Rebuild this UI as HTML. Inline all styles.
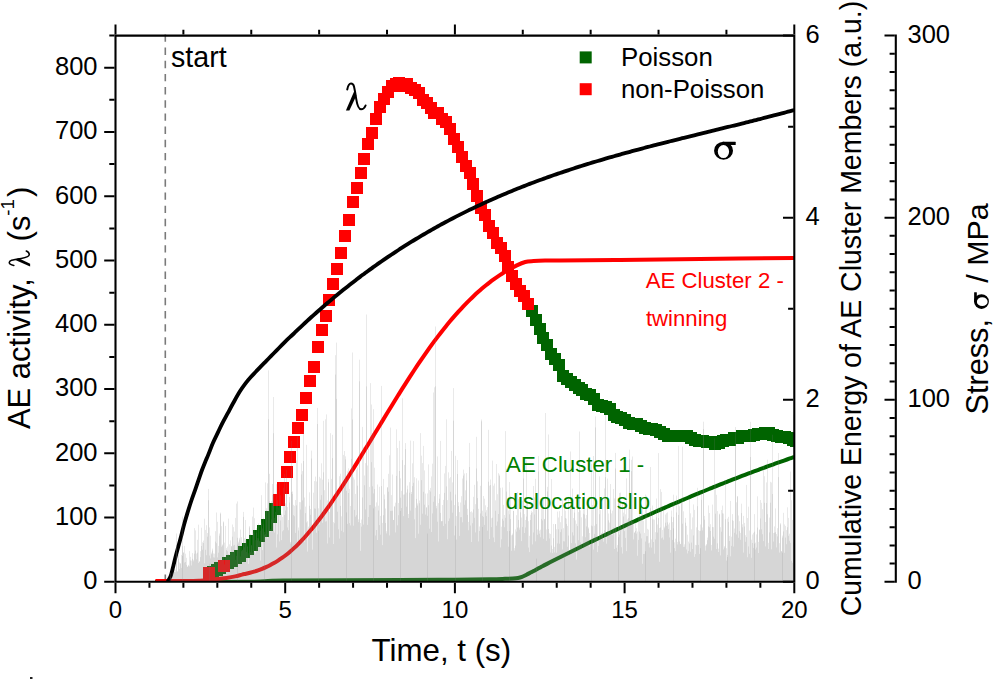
<!DOCTYPE html><html><head><meta charset="utf-8"><style>html,body{margin:0;padding:0;background:#fff;}svg{display:block;}</style></head><body>
<svg width="995" height="679" viewBox="0 0 995 679">
<rect width="995" height="679" fill="#fff"/>
<defs><clipPath id="pc"><rect x="115.5" y="35.6" width="678.8" height="546.2"/></clipPath></defs>
<line x1="165.3" y1="34.43" x2="165.3" y2="581.8" stroke="#7a7a7a" stroke-width="1.6" stroke-dasharray="7.4 5.77"/>
<g clip-path="url(#pc)">
<path d="M207,566h12v12h-12zM211,564h12v12h-12zM214,562h12v12h-12zM222,557h12v12h-12zM226,555h12v12h-12zM230,552h12v12h-12zM234,550h12v12h-12zM238,546h12v12h-12zM242,543h12v12h-12zM246,539h12v12h-12zM249,535h12v12h-12zM253,530h12v12h-12zM257,525h12v12h-12zM261,519h12v12h-12zM265,511h12v12h-12zM269,503h12v12h-12zM526,305h12v12h-12zM530,314h12v12h-12zM534,323h12v12h-12zM537,332h12v12h-12zM541,339h12v12h-12zM545,348h12v12h-12zM549,353h12v12h-12zM553,359h12v12h-12zM557,370h12v12h-12zM561,373h12v12h-12zM565,376h12v12h-12zM569,379h12v12h-12zM573,382h12v12h-12zM576,384h12v12h-12zM580,388h12v12h-12zM584,389h12v12h-12zM588,393h12v12h-12zM592,399h12v12h-12zM596,400h12v12h-12zM600,401h12v12h-12zM604,403h12v12h-12zM608,409h12v12h-12zM611,411h12v12h-12zM615,412h12v12h-12zM619,414h12v12h-12zM623,417h12v12h-12zM627,418h12v12h-12zM631,418h12v12h-12zM635,420h12v12h-12zM639,422h12v12h-12zM643,423h12v12h-12zM646,423h12v12h-12zM650,424h12v12h-12zM654,426h12v12h-12zM658,428h12v12h-12zM662,430h12v12h-12zM666,430h12v12h-12zM670,430h12v12h-12zM674,430h12v12h-12zM678,430h12v12h-12zM681,430h12v12h-12zM685,432h12v12h-12zM689,434h12v12h-12zM693,435h12v12h-12zM697,435h12v12h-12zM701,436h12v12h-12zM705,436h12v12h-12zM709,438h12v12h-12zM713,437h12v12h-12zM717,435h12v12h-12zM720,434h12v12h-12zM724,434h12v12h-12zM728,432h12v12h-12zM732,432h12v12h-12zM736,430h12v12h-12zM740,430h12v12h-12zM744,430h12v12h-12zM748,429h12v12h-12zM752,428h12v12h-12zM755,428h12v12h-12zM759,427h12v12h-12zM763,427h12v12h-12zM767,429h12v12h-12zM771,430h12v12h-12zM775,431h12v12h-12zM779,431h12v12h-12zM783,432h12v12h-12zM787,434h12v12h-12zM790,435h12v12h-12z" fill="#006400"/>
<path d="M203,567h12v12h-12zM218,560h12v12h-12zM273,494h12v12h-12zM277,482h12v12h-12zM281,466h12v12h-12zM284,451h12v12h-12zM288,436h12v12h-12zM292,422h12v12h-12zM296,409h12v12h-12zM300,392h12v12h-12zM304,375h12v12h-12zM308,361h12v12h-12zM312,341h12v12h-12zM316,324h12v12h-12zM320,310h12v12h-12zM323,294h12v12h-12zM327,278h12v12h-12zM331,263h12v12h-12zM335,247h12v12h-12zM339,230h12v12h-12zM343,214h12v12h-12zM347,196h12v12h-12zM351,182h12v12h-12zM355,167h12v12h-12zM358,153h12v12h-12zM362,138h12v12h-12zM366,127h12v12h-12zM370,113h12v12h-12zM374,101h12v12h-12zM378,93h12v12h-12zM382,86h12v12h-12zM386,80h12v12h-12zM390,78h12v12h-12zM393,77h12v12h-12zM397,80h12v12h-12zM401,78h12v12h-12zM405,82h12v12h-12zM409,84h12v12h-12zM413,87h12v12h-12zM417,94h12v12h-12zM421,97h12v12h-12zM425,102h12v12h-12zM428,107h12v12h-12zM432,107h12v12h-12zM436,113h12v12h-12zM440,116h12v12h-12zM444,123h12v12h-12zM448,133h12v12h-12zM452,141h12v12h-12zM456,151h12v12h-12zM460,160h12v12h-12zM464,167h12v12h-12zM467,178h12v12h-12zM471,190h12v12h-12zM475,202h12v12h-12zM479,209h12v12h-12zM483,220h12v12h-12zM487,227h12v12h-12zM491,237h12v12h-12zM495,242h12v12h-12zM499,250h12v12h-12zM502,261h12v12h-12zM506,270h12v12h-12zM510,278h12v12h-12zM514,285h12v12h-12zM518,290h12v12h-12zM522,298h12v12h-12z" fill="#ff0000"/>
<path d="M155.00,582.00 C170.83,581.97 228.67,582.03 250.00,581.80 C271.33,581.57 258.00,580.90 283.00,580.60 C308.00,580.30 372.17,580.15 400.00,580.00 C427.83,579.85 435.00,579.83 450.00,579.70 C465.00,579.57 480.83,579.35 490.00,579.20 C499.17,579.05 501.17,578.92 505.00,578.80 C508.83,578.68 510.83,578.63 513.00,578.50 C515.17,578.37 516.50,578.27 518.00,578.00 C519.50,577.73 520.58,577.45 522.00,576.90 C523.42,576.35 525.00,575.47 526.50,574.70 C528.00,573.93 529.42,573.13 531.00,572.30 C532.58,571.47 534.33,570.59 536.00,569.70 C537.67,568.81 539.67,567.66 541.00,566.94 C542.33,566.23 543.00,565.91 544.00,565.39 C545.00,564.88 546.00,564.36 547.00,563.85 C548.00,563.33 549.00,562.82 550.00,562.31 C551.00,561.80 552.00,561.28 553.00,560.77 C554.00,560.26 555.00,559.75 556.00,559.25 C557.00,558.74 558.00,558.23 559.00,557.72 C560.00,557.22 561.00,556.71 562.00,556.21 C563.00,555.70 564.00,555.20 565.00,554.69 C566.00,554.19 567.00,553.69 568.00,553.19 C569.00,552.69 570.00,552.19 571.00,551.69 C572.00,551.19 573.00,550.69 574.00,550.19 C575.00,549.69 576.00,549.20 577.00,548.70 C578.00,548.21 579.00,547.71 580.00,547.22 C581.00,546.72 582.00,546.23 583.00,545.74 C584.00,545.25 585.00,544.76 586.00,544.27 C587.00,543.78 588.00,543.29 589.00,542.80 C590.00,542.31 591.00,541.83 592.00,541.34 C593.00,540.85 594.00,540.37 595.00,539.89 C596.00,539.40 597.00,538.92 598.00,538.44 C599.00,537.95 600.00,537.47 601.00,536.99 C602.00,536.51 603.00,536.03 604.00,535.56 C605.00,535.08 606.00,534.60 607.00,534.12 C608.00,533.65 609.00,533.17 610.00,532.70 C611.00,532.22 612.00,531.75 613.00,531.28 C614.00,530.81 615.00,530.33 616.00,529.86 C617.00,529.39 618.00,528.92 619.00,528.45 C620.00,527.99 621.00,527.52 622.00,527.05 C623.00,526.59 624.00,526.12 625.00,525.66 C626.00,525.19 627.00,524.73 628.00,524.27 C629.00,523.80 630.00,523.34 631.00,522.88 C632.00,522.42 633.00,521.96 634.00,521.50 C635.00,521.04 636.00,520.59 637.00,520.13 C638.00,519.67 639.00,519.22 640.00,518.76 C641.00,518.31 642.00,517.85 643.00,517.40 C644.00,516.95 645.00,516.50 646.00,516.05 C647.00,515.60 648.00,515.15 649.00,514.70 C650.00,514.25 651.00,513.80 652.00,513.36 C653.00,512.91 654.00,512.46 655.00,512.02 C656.00,511.57 657.00,511.13 658.00,510.69 C659.00,510.25 660.00,509.81 661.00,509.36 C662.00,508.92 663.00,508.49 664.00,508.05 C665.00,507.61 666.00,507.17 667.00,506.73 C668.00,506.30 669.00,505.86 670.00,505.43 C671.00,504.99 672.00,504.56 673.00,504.13 C674.00,503.70 675.00,503.27 676.00,502.84 C677.00,502.41 678.00,501.98 679.00,501.55 C680.00,501.12 681.00,500.69 682.00,500.27 C683.00,499.84 684.00,499.42 685.00,498.99 C686.00,498.57 687.00,498.15 688.00,497.72 C689.00,497.30 690.00,496.88 691.00,496.46 C692.00,496.04 693.00,495.62 694.00,495.21 C695.00,494.79 696.00,494.37 697.00,493.96 C698.00,493.54 699.00,493.13 700.00,492.71 C701.00,492.30 702.00,491.89 703.00,491.48 C704.00,491.07 705.00,490.66 706.00,490.25 C707.00,489.84 708.00,489.43 709.00,489.02 C710.00,488.62 711.00,488.21 712.00,487.81 C713.00,487.40 714.00,487.00 715.00,486.59 C716.00,486.19 717.00,485.79 718.00,485.39 C719.00,484.99 720.00,484.59 721.00,484.19 C722.00,483.79 723.00,483.40 724.00,483.00 C725.00,482.60 726.00,482.21 727.00,481.81 C728.00,481.42 729.00,481.03 730.00,480.64 C731.00,480.24 732.00,479.85 733.00,479.46 C734.00,479.07 735.00,478.68 736.00,478.30 C737.00,477.91 738.00,477.52 739.00,477.14 C740.00,476.75 741.00,476.37 742.00,475.99 C743.00,475.60 744.00,475.22 745.00,474.84 C746.00,474.46 747.00,474.08 748.00,473.70 C749.00,473.32 750.00,472.94 751.00,472.57 C752.00,472.19 753.00,471.81 754.00,471.44 C755.00,471.07 756.00,470.69 757.00,470.32 C758.00,469.95 759.00,469.58 760.00,469.21 C761.00,468.84 762.00,468.47 763.00,468.10 C764.00,467.73 765.00,467.37 766.00,467.00 C767.00,466.64 768.00,466.27 769.00,465.91 C770.00,465.55 771.00,465.18 772.00,464.82 C773.00,464.46 774.00,464.10 775.00,463.74 C776.00,463.39 777.00,463.03 778.00,462.67 C779.00,462.32 780.00,461.96 781.00,461.61 C782.00,461.25 783.00,460.90 784.00,460.55 C785.00,460.19 786.00,459.84 787.00,459.49 C788.00,459.15 789.00,458.80 790.00,458.45 C791.00,458.10 792.28,457.66 793.00,457.41 C793.72,457.16 794.08,457.04 794.30,456.96" fill="none" stroke="#006400" stroke-width="4.0" stroke-linejoin="round"/>
<path d="M155.40,581.10 C161.17,581.08 182.57,581.05 190.00,581.00 C197.43,580.95 197.17,580.92 200.00,580.80 C202.83,580.68 204.50,580.57 207.00,580.30 C209.50,580.03 211.75,579.60 215.00,579.20 C218.25,578.80 223.12,578.37 226.50,577.90 C229.88,577.43 232.72,576.95 235.30,576.40 C237.88,575.85 240.22,575.05 242.00,574.61 C243.78,574.17 244.67,574.07 246.00,573.76 C247.33,573.46 248.67,573.13 250.00,572.77 C251.33,572.41 252.67,572.04 254.00,571.62 C255.33,571.21 256.67,570.78 258.00,570.31 C259.33,569.84 260.67,569.34 262.00,568.80 C263.33,568.27 264.67,567.70 266.00,567.09 C267.33,566.49 268.67,565.85 270.00,565.17 C271.33,564.49 272.67,563.77 274.00,563.01 C275.33,562.25 276.67,561.45 278.00,560.60 C279.33,559.75 280.67,558.86 282.00,557.93 C283.33,556.99 284.67,556.00 286.00,554.97 C287.33,553.94 288.67,552.85 290.00,551.72 C291.33,550.58 292.67,549.40 294.00,548.16 C295.33,546.92 296.67,545.63 298.00,544.30 C299.33,542.97 300.67,541.58 302.00,540.16 C303.33,538.73 304.67,537.26 306.00,535.75 C307.33,534.24 308.67,532.68 310.00,531.09 C311.33,529.49 312.67,527.86 314.00,526.19 C315.33,524.52 316.67,522.81 318.00,521.07 C319.33,519.33 320.67,517.55 322.00,515.74 C323.33,513.94 324.67,512.10 326.00,510.23 C327.33,508.36 328.67,506.46 330.00,504.54 C331.33,502.61 332.67,500.66 334.00,498.69 C335.33,496.71 336.67,494.71 338.00,492.69 C339.33,490.67 340.67,488.63 342.00,486.57 C343.33,484.51 344.67,482.43 346.00,480.34 C347.33,478.24 348.67,476.13 350.00,474.01 C351.33,471.88 352.67,469.74 354.00,467.59 C355.33,465.44 356.67,463.28 358.00,461.11 C359.33,458.95 360.67,456.77 362.00,454.58 C363.33,452.40 364.67,450.21 366.00,448.02 C367.33,445.82 368.67,443.63 370.00,441.43 C371.33,439.23 372.67,437.02 374.00,434.82 C375.33,432.62 376.67,430.42 378.00,428.22 C379.33,426.02 380.67,423.81 382.00,421.62 C383.33,419.42 384.67,417.23 386.00,415.04 C387.33,412.85 388.67,410.67 390.00,408.49 C391.33,406.32 392.67,404.15 394.00,401.99 C395.33,399.83 396.67,397.68 398.00,395.54 C399.33,393.40 400.67,391.26 402.00,389.15 C403.33,387.03 404.67,384.93 406.00,382.84 C407.33,380.75 408.67,378.67 410.00,376.61 C411.33,374.55 412.67,372.50 414.00,370.48 C415.33,368.45 416.67,366.45 418.00,364.46 C419.33,362.47 420.67,360.50 422.00,358.56 C423.33,356.61 424.67,354.69 426.00,352.79 C427.33,350.89 428.67,349.01 430.00,347.16 C431.33,345.31 432.67,343.48 434.00,341.68 C435.33,339.88 436.67,338.11 438.00,336.36 C439.33,334.61 440.67,332.89 442.00,331.19 C443.33,329.49 444.67,327.82 446.00,326.18 C447.33,324.54 448.67,322.92 450.00,321.33 C451.33,319.74 452.67,318.18 454.00,316.65 C455.33,315.11 456.67,313.60 458.00,312.12 C459.33,310.64 460.67,309.19 462.00,307.77 C463.33,306.34 464.67,304.95 466.00,303.58 C467.33,302.21 468.67,300.87 470.00,299.56 C471.33,298.25 472.67,296.96 474.00,295.71 C475.33,294.46 476.67,293.23 478.00,292.04 C479.33,290.84 480.67,289.68 482.00,288.54 C483.33,287.40 484.67,286.30 486.00,285.22 C487.33,284.14 488.67,283.10 490.00,282.08 C491.33,281.06 492.67,280.08 494.00,279.12 C495.33,278.16 496.67,277.24 498.00,276.34 C499.33,275.45 500.67,274.59 502.00,273.75 C503.33,272.92 503.53,272.74 506.00,271.35 C508.47,269.96 513.60,266.96 516.80,265.40 C520.00,263.84 522.40,262.72 525.20,262.00 C528.00,261.28 530.30,261.33 533.60,261.10 C536.90,260.87 540.60,260.72 545.00,260.60 C549.40,260.48 547.50,260.50 560.00,260.40 C572.50,260.30 596.67,260.23 620.00,260.00 C643.33,259.77 670.95,259.33 700.00,259.00 C729.05,258.67 778.58,258.17 794.30,258.00" fill="none" stroke="#ff0000" stroke-width="4" stroke-linejoin="round"/>
<path d="M167.60,581.50 C167.92,581.00 168.93,579.57 169.50,578.50 C170.07,577.43 170.32,577.37 171.00,575.10 C171.68,572.83 172.75,568.30 173.60,564.90 C174.45,561.50 175.27,557.95 176.10,554.70 C176.93,551.45 177.75,548.50 178.60,545.40 C179.45,542.30 180.35,539.35 181.20,536.10 C182.05,532.85 182.72,529.57 183.70,525.90 C184.68,522.23 185.82,518.33 187.10,514.10 C188.38,509.87 189.98,504.75 191.40,500.50 C192.82,496.25 194.23,492.55 195.60,488.60 C196.97,484.65 198.50,479.98 199.60,476.80 C200.70,473.62 201.27,471.98 202.20,469.50 C203.13,467.02 204.17,464.42 205.20,461.90 C206.23,459.38 207.12,457.55 208.40,454.40 C209.68,451.25 211.37,446.55 212.90,443.00 C214.43,439.45 216.02,436.40 217.60,433.10 C219.18,429.80 220.70,426.52 222.40,423.20 C224.10,419.88 226.02,416.52 227.80,413.20 C229.58,409.88 231.10,406.90 233.10,403.30 C235.10,399.70 237.70,394.95 239.80,391.60 C241.90,388.25 243.90,385.58 245.70,383.20 C247.50,380.82 248.92,379.20 250.60,377.30 C252.28,375.40 254.08,373.62 255.80,371.80 C257.52,369.98 259.18,368.18 260.90,366.40 C262.62,364.62 264.38,362.85 266.10,361.10 C267.82,359.35 269.48,357.65 271.20,355.90 C272.92,354.15 274.68,352.35 276.40,350.60 C278.12,348.85 279.78,347.15 281.50,345.40 C283.22,343.65 284.95,341.79 286.70,340.10 C288.45,338.41 290.45,336.69 292.00,335.24 C293.55,333.79 294.67,332.67 296.00,331.40 C297.33,330.12 298.67,328.86 300.00,327.61 C301.33,326.35 302.67,325.10 304.00,323.87 C305.33,322.63 306.67,321.40 308.00,320.18 C309.33,318.96 310.67,317.75 312.00,316.55 C313.33,315.35 314.67,314.15 316.00,312.97 C317.33,311.79 318.67,310.61 320.00,309.44 C321.33,308.28 322.67,307.12 324.00,305.97 C325.33,304.82 326.67,303.67 328.00,302.54 C329.33,301.41 330.67,300.28 332.00,299.17 C333.33,298.05 334.67,296.94 336.00,295.84 C337.33,294.74 338.67,293.65 340.00,292.57 C341.33,291.48 342.67,290.41 344.00,289.34 C345.33,288.27 346.67,287.21 348.00,286.16 C349.33,285.11 350.67,284.06 352.00,283.03 C353.33,281.99 354.67,280.96 356.00,279.94 C357.33,278.92 358.67,277.91 360.00,276.91 C361.33,275.90 362.67,274.91 364.00,273.92 C365.33,272.93 366.67,271.94 368.00,270.97 C369.33,270.00 370.67,269.03 372.00,268.07 C373.33,267.11 374.67,266.16 376.00,265.21 C377.33,264.27 378.67,263.33 380.00,262.40 C381.33,261.47 382.67,260.55 384.00,259.63 C385.33,258.72 386.67,257.81 388.00,256.91 C389.33,256.01 390.67,255.11 392.00,254.23 C393.33,253.34 394.67,252.46 396.00,251.59 C397.33,250.71 398.67,249.85 400.00,248.99 C401.33,248.13 402.67,247.27 404.00,246.43 C405.33,245.58 406.67,244.74 408.00,243.91 C409.33,243.08 410.67,242.25 412.00,241.43 C413.33,240.61 414.67,239.80 416.00,238.99 C417.33,238.19 418.67,237.39 420.00,236.59 C421.33,235.80 422.67,235.01 424.00,234.23 C425.33,233.45 426.67,232.68 428.00,231.91 C429.33,231.14 430.67,230.38 432.00,229.62 C433.33,228.87 434.67,228.12 436.00,227.37 C437.33,226.63 438.67,225.89 440.00,225.16 C441.33,224.43 442.67,223.70 444.00,222.98 C445.33,222.26 446.67,221.55 448.00,220.84 C449.33,220.13 450.67,219.43 452.00,218.73 C453.33,218.03 454.67,217.34 456.00,216.66 C457.33,215.97 458.67,215.29 460.00,214.62 C461.33,213.94 462.67,213.27 464.00,212.61 C465.33,211.95 466.67,211.29 468.00,210.63 C469.33,209.98 470.67,209.33 472.00,208.69 C473.33,208.05 474.67,207.41 476.00,206.78 C477.33,206.15 478.67,205.52 480.00,204.90 C481.33,204.28 482.67,203.66 484.00,203.05 C485.33,202.44 486.67,201.83 488.00,201.23 C489.33,200.63 490.67,200.03 492.00,199.44 C493.33,198.85 494.67,198.26 496.00,197.68 C497.33,197.10 498.67,196.52 500.00,195.94 C501.33,195.37 502.67,194.80 504.00,194.24 C505.33,193.68 506.67,193.12 508.00,192.56 C509.33,192.01 510.67,191.46 512.00,190.91 C513.33,190.36 514.67,189.82 516.00,189.28 C517.33,188.75 518.67,188.21 520.00,187.69 C521.33,187.16 522.67,186.63 524.00,186.11 C525.33,185.59 526.67,185.07 528.00,184.56 C529.33,184.05 530.67,183.54 532.00,183.04 C533.33,182.53 534.67,182.03 536.00,181.53 C537.33,181.04 538.67,180.55 540.00,180.06 C541.33,179.57 542.67,179.08 544.00,178.60 C545.33,178.12 546.67,177.64 548.00,177.17 C549.33,176.69 550.67,176.22 552.00,175.75 C553.33,175.29 554.67,174.82 556.00,174.36 C557.33,173.90 558.67,173.45 560.00,172.99 C561.33,172.54 562.67,172.09 564.00,171.64 C565.33,171.19 566.67,170.75 568.00,170.31 C569.33,169.87 570.67,169.43 572.00,169.00 C573.33,168.56 574.67,168.13 576.00,167.70 C577.33,167.27 578.67,166.85 580.00,166.43 C581.33,166.00 582.67,165.58 584.00,165.17 C585.33,164.75 586.67,164.34 588.00,163.93 C589.33,163.51 590.67,163.11 592.00,162.70 C593.33,162.29 594.67,161.89 596.00,161.49 C597.33,161.09 598.67,160.69 600.00,160.30 C601.33,159.90 602.67,159.51 604.00,159.12 C605.33,158.72 606.67,158.34 608.00,157.95 C609.33,157.56 610.67,157.18 612.00,156.80 C613.33,156.42 614.67,156.04 616.00,155.66 C617.33,155.28 618.67,154.91 620.00,154.53 C621.33,154.16 622.67,153.79 624.00,153.42 C625.33,153.05 626.67,152.68 628.00,152.32 C629.33,151.95 630.67,151.59 632.00,151.22 C633.33,150.86 634.67,150.50 636.00,150.14 C637.33,149.79 638.67,149.43 640.00,149.07 C641.33,148.72 642.67,148.36 644.00,148.01 C645.33,147.66 646.67,147.31 648.00,146.96 C649.33,146.61 650.67,146.26 652.00,145.92 C653.33,145.57 654.67,145.22 656.00,144.88 C657.33,144.53 658.67,144.19 660.00,143.85 C661.33,143.51 662.67,143.17 664.00,142.83 C665.33,142.49 666.67,142.15 668.00,141.81 C669.33,141.48 670.67,141.14 672.00,140.80 C673.33,140.47 674.67,140.13 676.00,139.80 C677.33,139.47 678.67,139.13 680.00,138.80 C681.33,138.47 682.67,138.14 684.00,137.80 C685.33,137.47 686.67,137.14 688.00,136.81 C689.33,136.48 690.67,136.15 692.00,135.82 C693.33,135.50 694.67,135.17 696.00,134.84 C697.33,134.51 698.67,134.18 700.00,133.86 C701.33,133.53 702.67,133.20 704.00,132.87 C705.33,132.55 706.67,132.22 708.00,131.89 C709.33,131.57 710.67,131.24 712.00,130.91 C713.33,130.59 714.67,130.26 716.00,129.93 C717.33,129.61 718.67,129.28 720.00,128.95 C721.33,128.63 722.67,128.30 724.00,127.97 C725.33,127.64 726.67,127.32 728.00,126.99 C729.33,126.66 730.67,126.33 732.00,126.00 C733.33,125.67 734.67,125.35 736.00,125.02 C737.33,124.69 738.67,124.36 740.00,124.03 C741.33,123.69 742.67,123.36 744.00,123.03 C745.33,122.70 746.67,122.37 748.00,122.03 C749.33,121.70 750.67,121.37 752.00,121.03 C753.33,120.70 754.67,120.36 756.00,120.02 C757.33,119.69 758.67,119.35 760.00,119.01 C761.33,118.67 762.67,118.33 764.00,117.99 C765.33,117.65 766.67,117.31 768.00,116.96 C769.33,116.62 770.67,116.27 772.00,115.93 C773.33,115.58 774.67,115.23 776.00,114.89 C777.33,114.54 778.67,114.19 780.00,113.84 C781.33,113.48 782.67,113.13 784.00,112.78 C785.33,112.42 786.67,112.07 788.00,111.71 C789.33,111.35 790.95,110.91 792.00,110.63 C793.05,110.35 793.92,110.11 794.30,110.01" fill="none" stroke="#000" stroke-width="3.85" stroke-linejoin="round"/>
<path d="M169.5,581.8V580.7M170.5,581.8V572.9M171.5,581.8V577.8M172.5,581.8V577.1M173.5,581.8V572.9M174.5,581.8V572.0M175.5,581.8V569.5M176.5,581.8V533.5M177.5,581.8V570.8M178.5,581.8V554.8M179.5,581.8V568.9M180.5,581.8V563.3M181.5,581.8V554.9M182.5,581.8V546.2M183.5,581.8V552.5M184.5,581.8V545.9M185.5,581.8V553.7M186.5,581.8V557.8M187.5,581.8V566.5M188.5,581.8V564.8M189.5,581.8V566.3M190.5,581.8V556.8M191.5,581.8V560.6M192.5,581.8V558.8M193.5,581.8V561.3M194.5,581.8V553.7M195.5,581.8V530.4M196.5,581.8V553.6M197.5,581.8V552.7M198.5,581.8V524.7M199.5,581.8V561.6M200.5,581.8V557.1M201.5,581.8V527.7M202.5,581.8V549.7M203.5,581.8V540.6M204.5,581.8V563.3M205.5,581.8V529.9M206.5,581.8V555.2M207.5,581.8V533.0M208.5,581.8V488.9M209.5,581.8V555.5M210.5,581.8V558.4M211.5,581.8V554.2M212.5,581.8V550.6M213.5,581.8V553.4M214.5,581.8V557.5M215.5,581.8V531.2M216.5,581.8V543.2M217.5,581.8V557.4M218.5,581.8V552.7M219.5,581.8V535.7M220.5,581.8V512.6M221.5,581.8V526.2M222.5,581.8V544.5M223.5,581.8V522.4M224.5,581.8V564.5M225.5,581.8V556.6M226.5,581.8V548.1M227.5,581.8V546.6M228.5,581.8V554.0M229.5,581.8V544.3M230.5,581.8V540.4M231.5,581.8V546.2M232.5,581.8V536.7M233.5,581.8V527.1M234.5,581.8V544.9M235.5,581.8V559.8M236.5,581.8V555.9M237.5,581.8V544.6M238.5,581.8V541.7M239.5,581.8V539.5M240.5,581.8V556.5M241.5,581.8V537.2M242.5,581.8V550.1M243.5,581.8V511.9M244.5,581.8V538.1M245.5,581.8V520.0M246.5,581.8V539.9M247.5,581.8V545.6M248.5,581.8V563.9M249.5,581.8V526.1M250.5,581.8V533.9M251.5,581.8V545.2M252.5,581.8V516.6M253.5,581.8V532.9M254.5,581.8V518.2M255.5,581.8V553.6M256.5,581.8V528.1M257.5,581.8V540.4M258.5,581.8V538.3M259.5,581.8V541.3M260.5,581.8V530.7M261.5,581.8V522.8M262.5,581.8V528.5M263.5,581.8V517.7M264.5,581.8V536.5M265.5,581.8V482.4M266.5,581.8V510.2M267.5,581.8V483.3M268.5,581.8V370.3M269.5,581.8V473.8M270.5,581.8V531.5M271.5,581.8V501.0M272.5,581.8V494.9M273.5,581.8V397.0M274.5,581.8V532.5M275.5,581.8V515.1M276.5,581.8V484.2M277.5,581.8V534.3M278.5,581.8V507.5M279.5,581.8V482.5M280.5,581.8V495.2M281.5,581.8V513.7M282.5,581.8V531.3M283.5,581.8V530.2M284.5,581.8V474.0M285.5,581.8V503.3M286.5,581.8V469.8M287.5,581.8V527.4M288.5,581.8V530.2M289.5,581.8V496.9M290.5,581.8V541.9M291.5,581.8V440.8M292.5,581.8V491.5M293.5,581.8V515.1M294.5,581.8V505.8M295.5,581.8V532.9M296.5,581.8V505.3M297.5,581.8V542.4M298.5,581.8V527.5M299.5,581.8V502.1M300.5,581.8V509.5M301.5,581.8V474.4M302.5,581.8V471.1M303.5,581.8V431.5M304.5,581.8V542.2M305.5,581.8V506.6M306.5,581.8V444.8M307.5,581.8V521.3M308.5,581.8V537.5M309.5,581.8V492.3M310.5,581.8V509.0M311.5,581.8V458.5M312.5,581.8V531.8M313.5,581.8V524.4M314.5,581.8V508.4M315.5,581.8V476.6M316.5,581.8V481.5M317.5,581.8V407.9M318.5,581.8V520.8M319.5,581.8V524.6M320.5,581.8V478.3M321.5,581.8V463.3M322.5,581.8V479.7M323.5,581.8V472.3M324.5,581.8V510.4M325.5,581.8V419.3M326.5,581.8V414.4M327.5,581.8V500.3M328.5,581.8V482.3M329.5,581.8V512.0M330.5,581.8V504.5M331.5,581.8V500.8M332.5,581.8V458.1M333.5,581.8V544.0M334.5,581.8V501.9M335.5,581.8V355.2M336.5,581.8V342.6M337.5,581.8V511.7M338.5,581.8V491.8M339.5,581.8V476.2M340.5,581.8V473.7M341.5,581.8V516.3M342.5,581.8V426.7M343.5,581.8V454.9M344.5,581.8V451.0M345.5,581.8V456.3M346.5,581.8V478.9M347.5,581.8V471.3M348.5,581.8V493.0M349.5,581.8V523.1M350.5,581.8V525.4M351.5,581.8V458.9M352.5,581.8V352.5M353.5,581.8V525.7M354.5,581.8V479.6M355.5,581.8V493.9M356.5,581.8V515.2M357.5,581.8V467.6M358.5,581.8V519.3M359.5,581.8V359.7M360.5,581.8V550.9M361.5,581.8V526.6M362.5,581.8V497.4M363.5,581.8V447.2M364.5,581.8V485.2M365.5,581.8V463.1M366.5,581.8V314.5M367.5,581.8V524.9M368.5,581.8V517.0M369.5,581.8V505.1M370.5,581.8V383.1M371.5,581.8V404.5M372.5,581.8V486.3M373.5,581.8V508.4M374.5,581.8V467.7M375.5,581.8V506.6M376.5,581.8V530.0M377.5,581.8V484.5M378.5,581.8V505.7M379.5,581.8V486.8M380.5,581.8V534.7M381.5,581.8V385.9M382.5,581.8V545.1M383.5,581.8V478.9M384.5,581.8V494.5M385.5,581.8V523.0M386.5,581.8V533.4M387.5,581.8V487.4M388.5,581.8V473.8M389.5,581.8V455.3M390.5,581.8V510.9M391.5,581.8V495.1M392.5,581.8V474.5M393.5,581.8V520.0M394.5,581.8V505.9M395.5,581.8V502.7M396.5,581.8V429.3M397.5,581.8V448.0M398.5,581.8V515.2M399.5,581.8V440.8M400.5,581.8V510.9M401.5,581.8V508.0M402.5,581.8V460.1M403.5,581.8V494.6M404.5,581.8V494.4M405.5,581.8V443.1M406.5,581.8V492.6M407.5,581.8V485.6M408.5,581.8V514.0M409.5,581.8V492.7M410.5,581.8V440.6M411.5,581.8V492.0M412.5,581.8V463.3M413.5,581.8V441.1M414.5,581.8V519.3M415.5,581.8V538.1M416.5,581.8V498.9M417.5,581.8V505.6M418.5,581.8V533.7M419.5,581.8V500.5M420.5,581.8V433.1M421.5,581.8V480.1M422.5,581.8V513.7M423.5,581.8V445.9M424.5,581.8V470.4M425.5,581.8V493.6M426.5,581.8V507.5M427.5,581.8V533.5M428.5,581.8V505.2M429.5,581.8V490.1M430.5,581.8V491.5M431.5,581.8V476.4M432.5,581.8V463.7M433.5,581.8V392.5M434.5,581.8V496.2M435.5,581.8V326.5M436.5,581.8V505.9M437.5,581.8V521.7M438.5,581.8V503.1M439.5,581.8V494.1M440.5,581.8V512.9M441.5,581.8V521.3M442.5,581.8V521.1M443.5,581.8V499.9M444.5,581.8V473.4M445.5,581.8V465.9M446.5,581.8V419.3M447.5,581.8V500.1M448.5,581.8V472.3M449.5,581.8V518.4M450.5,581.8V491.8M451.5,581.8V450.9M452.5,581.8V482.4M453.5,581.8V388.1M454.5,581.8V505.1M455.5,581.8V525.8M456.5,581.8V516.1M457.5,581.8V460.0M458.5,581.8V506.1M459.5,581.8V512.1M460.5,581.8V502.5M461.5,581.8V517.1M462.5,581.8V478.5M463.5,581.8V469.6M464.5,581.8V473.5M465.5,581.8V500.3M466.5,581.8V473.1M467.5,581.8V508.8M468.5,581.8V521.9M469.5,581.8V467.0M470.5,581.8V525.5M471.5,581.8V511.3M472.5,581.8V523.2M473.5,581.8V509.4M474.5,581.8V517.8M475.5,581.8V532.4M476.5,581.8V436.8M477.5,581.8V498.1M478.5,581.8V541.4M479.5,581.8V526.5M480.5,581.8V485.8M481.5,581.8V419.5M482.5,581.8V526.9M483.5,581.8V516.9M484.5,581.8V524.9M485.5,581.8V512.4M486.5,581.8V510.2M487.5,581.8V530.7M488.5,581.8V481.7M489.5,581.8V485.7M490.5,581.8V485.0M491.5,581.8V518.2M492.5,581.8V460.6M493.5,581.8V485.7M494.5,581.8V542.1M495.5,581.8V510.8M496.5,581.8V525.7M497.5,581.8V521.5M498.5,581.8V473.2M499.5,581.8V474.6M500.5,581.8V487.8M501.5,581.8V539.3M502.5,581.8V487.5M503.5,581.8V504.9M504.5,581.8V515.0M505.5,581.8V517.8M506.5,581.8V468.8M507.5,581.8V500.1M508.5,581.8V510.4M509.5,581.8V514.3M510.5,581.8V495.9M511.5,581.8V550.8M512.5,581.8V535.1M513.5,581.8V510.9M514.5,581.8V550.5M515.5,581.8V545.6M516.5,581.8V515.2M517.5,581.8V527.5M518.5,581.8V519.9M519.5,581.8V529.7M520.5,581.8V512.3M521.5,581.8V517.5M522.5,581.8V526.9M523.5,581.8V465.2M524.5,581.8V533.0M525.5,581.8V520.0M526.5,581.8V516.6M527.5,581.8V502.3M528.5,581.8V547.5M529.5,581.8V535.8M530.5,581.8V520.0M531.5,581.8V512.9M532.5,581.8V512.2M533.5,581.8V486.0M534.5,581.8V497.4M535.5,581.8V478.8M536.5,581.8V558.6M537.5,581.8V534.8M538.5,581.8V456.1M539.5,581.8V533.7M540.5,581.8V537.2M541.5,581.8V504.9M542.5,581.8V520.4M543.5,581.8V538.8M544.5,581.8V518.9M545.5,581.8V413.0M546.5,581.8V540.8M547.5,581.8V486.8M548.5,581.8V434.5M549.5,581.8V533.3M550.5,581.8V552.5M551.5,581.8V545.5M552.5,581.8V553.1M553.5,581.8V524.0M554.5,581.8V546.9M555.5,581.8V524.1M556.5,581.8V552.7M557.5,581.8V543.4M558.5,581.8V517.5M559.5,581.8V511.2M560.5,581.8V522.2M561.5,581.8V516.0M562.5,581.8V499.5M563.5,581.8V528.2M564.5,581.8V541.4M565.5,581.8V510.7M566.5,581.8V518.6M567.5,581.8V546.8M568.5,581.8V496.8M569.5,581.8V554.4M570.5,581.8V451.5M571.5,581.8V507.1M572.5,581.8V488.6M573.5,581.8V518.0M574.5,581.8V512.6M575.5,581.8V520.4M576.5,581.8V523.8M577.5,581.8V497.8M578.5,581.8V540.2M579.5,581.8V431.5M580.5,581.8V510.3M581.5,581.8V517.3M582.5,581.8V536.3M583.5,581.8V513.7M584.5,581.8V491.9M585.5,581.8V537.2M586.5,581.8V515.0M587.5,581.8V501.9M588.5,581.8V527.4M589.5,581.8V546.6M590.5,581.8V544.8M591.5,581.8V541.3M592.5,581.8V526.3M593.5,581.8V456.0M594.5,581.8V525.7M595.5,581.8V416.4M596.5,581.8V503.0M597.5,581.8V505.9M598.5,581.8V539.6M599.5,581.8V476.3M600.5,581.8V537.6M601.5,581.8V534.9M602.5,581.8V532.4M603.5,581.8V538.1M604.5,581.8V488.4M605.5,581.8V414.9M606.5,581.8V533.6M607.5,581.8V478.6M608.5,581.8V520.3M609.5,581.8V522.6M610.5,581.8V509.6M611.5,581.8V535.1M612.5,581.8V535.1M613.5,581.8V489.0M614.5,581.8V549.0M615.5,581.8V452.9M616.5,581.8V547.8M617.5,581.8V551.7M618.5,581.8V500.6M619.5,581.8V493.0M620.5,581.8V525.1M621.5,581.8V526.8M622.5,581.8V553.6M623.5,581.8V512.6M624.5,581.8V531.1M625.5,581.8V514.3M626.5,581.8V478.4M627.5,581.8V519.5M628.5,581.8V507.4M629.5,581.8V449.7M630.5,581.8V495.7M631.5,581.8V459.8M632.5,581.8V522.4M633.5,581.8V539.4M634.5,581.8V532.7M635.5,581.8V522.0M636.5,581.8V528.2M637.5,581.8V531.6M638.5,581.8V517.2M639.5,581.8V531.6M640.5,581.8V533.5M641.5,581.8V510.4M642.5,581.8V507.6M643.5,581.8V554.0M644.5,581.8V532.9M645.5,581.8V551.2M646.5,581.8V536.2M647.5,581.8V528.8M648.5,581.8V529.7M649.5,581.8V542.7M650.5,581.8V467.0M651.5,581.8V539.4M652.5,581.8V505.5M653.5,581.8V519.3M654.5,581.8V519.7M655.5,581.8V532.2M656.5,581.8V498.5M657.5,581.8V532.5M658.5,581.8V518.0M659.5,581.8V528.0M660.5,581.8V489.1M661.5,581.8V491.9M662.5,581.8V529.9M663.5,581.8V509.2M664.5,581.8V528.3M665.5,581.8V522.7M666.5,581.8V513.2M667.5,581.8V512.4M668.5,581.8V524.5M669.5,581.8V522.7M670.5,581.8V530.0M671.5,581.8V516.7M672.5,581.8V522.1M673.5,581.8V517.2M674.5,581.8V542.3M675.5,581.8V551.1M676.5,581.8V512.4M677.5,581.8V544.4M678.5,581.8V514.9M679.5,581.8V506.3M680.5,581.8V544.1M681.5,581.8V502.5M682.5,581.8V446.6M683.5,581.8V511.3M684.5,581.8V546.8M685.5,581.8V517.9M686.5,581.8V525.8M687.5,581.8V553.4M688.5,581.8V541.6M689.5,581.8V498.5M690.5,581.8V551.8M691.5,581.8V542.6M692.5,581.8V549.0M693.5,581.8V535.4M694.5,581.8V509.9M695.5,581.8V544.9M696.5,581.8V545.2M697.5,581.8V487.8M698.5,581.8V544.9M699.5,581.8V530.9M700.5,581.8V530.8M701.5,581.8V493.1M702.5,581.8V530.4M703.5,581.8V421.7M704.5,581.8V515.9M705.5,581.8V545.6M706.5,581.8V544.0M707.5,581.8V540.2M708.5,581.8V505.4M709.5,581.8V513.0M710.5,581.8V524.2M711.5,581.8V544.9M712.5,581.8V527.0M713.5,581.8V536.7M714.5,581.8V538.7M715.5,581.8V513.7M716.5,581.8V549.1M717.5,581.8V511.1M718.5,581.8V552.0M719.5,581.8V514.5M720.5,581.8V555.4M721.5,581.8V510.0M722.5,581.8V513.3M723.5,581.8V513.6M724.5,581.8V547.5M725.5,581.8V480.1M726.5,581.8V560.6M727.5,581.8V557.0M728.5,581.8V521.9M729.5,581.8V541.0M730.5,581.8V556.3M731.5,581.8V536.7M732.5,581.8V520.2M733.5,581.8V520.8M734.5,581.8V528.5M735.5,581.8V427.0M736.5,581.8V502.3M737.5,581.8V496.6M738.5,581.8V537.8M739.5,581.8V531.1M740.5,581.8V539.8M741.5,581.8V513.1M742.5,581.8V527.3M743.5,581.8V515.9M744.5,581.8V522.9M745.5,581.8V535.2M746.5,581.8V537.1M747.5,581.8V557.2M748.5,581.8V546.4M749.5,581.8V530.5M750.5,581.8V421.8M751.5,581.8V539.7M752.5,581.8V534.5M753.5,581.8V547.9M754.5,581.8V531.7M755.5,581.8V542.6M756.5,581.8V547.6M757.5,581.8V496.3M758.5,581.8V553.0M759.5,581.8V530.1M760.5,581.8V500.0M761.5,581.8V502.8M762.5,581.8V509.2M763.5,581.8V541.1M764.5,581.8V476.2M765.5,581.8V546.4M766.5,581.8V503.0M767.5,581.8V514.2M768.5,581.8V549.0M769.5,581.8V517.6M770.5,581.8V481.8M771.5,581.8V482.5M772.5,581.8V434.7M773.5,581.8V541.6M774.5,581.8V532.7M775.5,581.8V532.2M776.5,581.8V547.4M777.5,581.8V536.4M778.5,581.8V453.0M779.5,581.8V543.2M780.5,581.8V524.4M781.5,581.8V551.5M782.5,581.8V552.7M783.5,581.8V531.4M784.5,581.8V552.8M785.5,581.8V537.6M786.5,581.8V530.1M787.5,581.8V507.3M788.5,581.8V535.8M789.5,581.8V533.7M790.5,581.8V542.9M791.5,581.8V560.9M792.5,581.8V519.9M793.5,581.8V414.6" stroke="rgb(128,128,128)" stroke-opacity="0.172" stroke-width="1" fill="none"/>
<path d="M169.5,581.8V580.4M170.5,581.8V576.7M171.5,581.8V577.4M172.5,581.8V573.4M173.5,581.8V573.6M174.5,581.8V567.8M175.5,581.8V572.3M176.5,581.8V545.8M177.5,581.8V571.8M178.5,581.8V558.8M179.5,581.8V562.4M180.5,581.8V563.5M181.5,581.8V567.9M182.5,581.8V555.9M183.5,581.8V552.6M184.5,581.8V562.6M185.5,581.8V562.0M186.5,581.8V564.9M187.5,581.8V566.9M188.5,581.8V565.8M189.5,581.8V551.1M190.5,581.8V560.4M191.5,581.8V565.5M192.5,581.8V553.1M193.5,581.8V559.8M194.5,581.8V528.1M195.5,581.8V550.6M196.5,581.8V559.3M197.5,581.8V539.8M198.5,581.8V563.0M199.5,581.8V561.4M200.5,581.8V551.2M201.5,581.8V546.0M202.5,581.8V542.3M203.5,581.8V543.0M204.5,581.8V518.7M205.5,581.8V549.8M206.5,581.8V525.2M207.5,581.8V536.7M208.5,581.8V500.2M209.5,581.8V563.8M210.5,581.8V535.7M211.5,581.8V552.6M212.5,581.8V548.6M213.5,581.8V557.3M214.5,581.8V553.7M215.5,581.8V541.6M216.5,581.8V512.5M217.5,581.8V521.8M218.5,581.8V545.9M219.5,581.8V533.5M220.5,581.8V513.8M221.5,581.8V546.7M222.5,581.8V545.6M223.5,581.8V521.4M224.5,581.8V542.6M225.5,581.8V525.9M226.5,581.8V550.1M227.5,581.8V551.2M228.5,581.8V518.6M229.5,581.8V557.0M230.5,581.8V553.0M231.5,581.8V546.3M232.5,581.8V524.5M233.5,581.8V545.6M234.5,581.8V531.6M235.5,581.8V517.9M236.5,581.8V503.6M237.5,581.8V537.8M238.5,581.8V543.3M239.5,581.8V537.8M240.5,581.8V529.6M241.5,581.8V551.1M242.5,581.8V549.6M243.5,581.8V516.9M244.5,581.8V547.2M245.5,581.8V540.0M246.5,581.8V551.9M247.5,581.8V546.7M248.5,581.8V553.3M249.5,581.8V527.4M250.5,581.8V551.9M251.5,581.8V545.3M252.5,581.8V552.2M253.5,581.8V507.6M254.5,581.8V552.2M255.5,581.8V540.1M256.5,581.8V532.8M257.5,581.8V538.1M258.5,581.8V523.3M259.5,581.8V540.6M260.5,581.8V560.6M261.5,581.8V495.2M262.5,581.8V550.1M263.5,581.8V524.3M264.5,581.8V534.8M265.5,581.8V533.9M266.5,581.8V508.2M267.5,581.8V538.5M268.5,581.8V419.2M269.5,581.8V501.4M270.5,581.8V529.0M271.5,581.8V519.5M272.5,581.8V484.0M273.5,581.8V433.2M274.5,581.8V517.9M275.5,581.8V511.8M276.5,581.8V547.5M277.5,581.8V500.1M278.5,581.8V515.2M279.5,581.8V541.4M280.5,581.8V520.5M281.5,581.8V540.1M282.5,581.8V516.9M283.5,581.8V487.7M284.5,581.8V514.9M285.5,581.8V510.5M286.5,581.8V493.5M287.5,581.8V507.0M288.5,581.8V520.0M289.5,581.8V502.5M290.5,581.8V543.6M291.5,581.8V492.1M292.5,581.8V494.0M293.5,581.8V504.8M294.5,581.8V516.2M295.5,581.8V500.0M296.5,581.8V460.5M297.5,581.8V436.1M298.5,581.8V530.5M299.5,581.8V546.2M300.5,581.8V502.2M301.5,581.8V463.3M302.5,581.8V500.4M303.5,581.8V461.0M304.5,581.8V497.5M305.5,581.8V513.1M306.5,581.8V522.4M307.5,581.8V551.6M308.5,581.8V526.7M309.5,581.8V505.8M310.5,581.8V514.8M311.5,581.8V450.6M312.5,581.8V549.7M313.5,581.8V492.7M314.5,581.8V481.1M315.5,581.8V508.7M316.5,581.8V532.8M317.5,581.8V424.0M318.5,581.8V530.8M319.5,581.8V476.8M320.5,581.8V499.8M321.5,581.8V495.1M322.5,581.8V522.8M323.5,581.8V420.8M324.5,581.8V490.2M325.5,581.8V521.6M326.5,581.8V521.2M327.5,581.8V543.5M328.5,581.8V478.9M329.5,581.8V537.5M330.5,581.8V433.2M331.5,581.8V478.9M332.5,581.8V434.8M333.5,581.8V522.1M334.5,581.8V523.2M335.5,581.8V374.6M336.5,581.8V398.9M337.5,581.8V496.5M338.5,581.8V529.3M339.5,581.8V538.6M340.5,581.8V505.9M341.5,581.8V530.8M342.5,581.8V484.0M343.5,581.8V532.2M344.5,581.8V487.3M345.5,581.8V459.4M346.5,581.8V490.8M347.5,581.8V523.9M348.5,581.8V468.3M349.5,581.8V488.9M350.5,581.8V506.0M351.5,581.8V408.4M352.5,581.8V419.5M353.5,581.8V477.4M354.5,581.8V509.9M355.5,581.8V516.7M356.5,581.8V469.7M357.5,581.8V485.7M358.5,581.8V522.1M359.5,581.8V381.3M360.5,581.8V523.0M361.5,581.8V519.5M362.5,581.8V426.9M363.5,581.8V524.6M364.5,581.8V475.5M365.5,581.8V509.4M366.5,581.8V386.4M367.5,581.8V465.5M368.5,581.8V448.6M369.5,581.8V486.9M370.5,581.8V505.0M371.5,581.8V462.1M372.5,581.8V433.1M373.5,581.8V493.4M374.5,581.8V489.1M375.5,581.8V535.5M376.5,581.8V502.4M377.5,581.8V540.0M378.5,581.8V510.5M379.5,581.8V525.1M380.5,581.8V515.9M381.5,581.8V486.1M382.5,581.8V522.9M383.5,581.8V515.2M384.5,581.8V499.3M385.5,581.8V508.5M386.5,581.8V531.2M387.5,581.8V487.3M388.5,581.8V491.7M389.5,581.8V535.4M390.5,581.8V427.6M391.5,581.8V510.8M392.5,581.8V510.7M393.5,581.8V519.9M394.5,581.8V506.9M395.5,581.8V532.4M396.5,581.8V475.9M397.5,581.8V525.3M398.5,581.8V503.0M399.5,581.8V471.0M400.5,581.8V478.3M401.5,581.8V490.8M402.5,581.8V398.2M403.5,581.8V516.1M404.5,581.8V464.9M405.5,581.8V449.1M406.5,581.8V506.7M407.5,581.8V489.3M408.5,581.8V518.0M409.5,581.8V482.2M410.5,581.8V510.6M411.5,581.8V494.0M412.5,581.8V486.1M413.5,581.8V482.8M414.5,581.8V477.2M415.5,581.8V507.8M416.5,581.8V478.3M417.5,581.8V503.4M418.5,581.8V480.5M419.5,581.8V503.2M420.5,581.8V524.8M421.5,581.8V455.7M422.5,581.8V463.1M423.5,581.8V491.8M424.5,581.8V504.7M425.5,581.8V514.6M426.5,581.8V507.3M427.5,581.8V515.8M428.5,581.8V464.4M429.5,581.8V528.7M430.5,581.8V487.9M431.5,581.8V532.0M432.5,581.8V513.4M433.5,581.8V501.8M434.5,581.8V387.3M435.5,581.8V386.3M436.5,581.8V508.3M437.5,581.8V456.4M438.5,581.8V541.5M439.5,581.8V498.7M440.5,581.8V440.9M441.5,581.8V521.1M442.5,581.8V505.0M443.5,581.8V526.0M444.5,581.8V492.9M445.5,581.8V523.8M446.5,581.8V486.4M447.5,581.8V539.2M448.5,581.8V521.1M449.5,581.8V478.3M450.5,581.8V477.1M451.5,581.8V500.5M452.5,581.8V512.7M453.5,581.8V420.7M454.5,581.8V535.4M455.5,581.8V494.5M456.5,581.8V539.6M457.5,581.8V474.0M458.5,581.8V502.2M459.5,581.8V535.9M460.5,581.8V517.2M461.5,581.8V496.2M462.5,581.8V522.3M463.5,581.8V475.6M464.5,581.8V504.8M465.5,581.8V490.3M466.5,581.8V480.4M467.5,581.8V514.9M468.5,581.8V530.2M469.5,581.8V442.9M470.5,581.8V511.9M471.5,581.8V542.0M472.5,581.8V512.5M473.5,581.8V496.8M474.5,581.8V484.8M475.5,581.8V504.2M476.5,581.8V468.5M477.5,581.8V481.3M478.5,581.8V508.8M479.5,581.8V531.0M480.5,581.8V513.5M481.5,581.8V421.3M482.5,581.8V510.7M483.5,581.8V496.0M484.5,581.8V498.7M485.5,581.8V505.3M486.5,581.8V516.1M487.5,581.8V507.1M488.5,581.8V429.8M489.5,581.8V539.0M490.5,581.8V479.5M491.5,581.8V527.1M492.5,581.8V517.7M493.5,581.8V537.5M494.5,581.8V483.5M495.5,581.8V500.3M496.5,581.8V464.0M497.5,581.8V494.2M498.5,581.8V514.0M499.5,581.8V476.0M500.5,581.8V547.4M501.5,581.8V526.7M502.5,581.8V518.8M503.5,581.8V520.7M504.5,581.8V527.2M505.5,581.8V431.1M506.5,581.8V491.6M507.5,581.8V531.1M508.5,581.8V546.7M509.5,581.8V482.0M510.5,581.8V519.0M511.5,581.8V535.3M512.5,581.8V533.6M513.5,581.8V510.8M514.5,581.8V548.1M515.5,581.8V529.4M516.5,581.8V531.6M517.5,581.8V492.0M518.5,581.8V498.8M519.5,581.8V527.6M520.5,581.8V505.7M521.5,581.8V541.1M522.5,581.8V500.6M523.5,581.8V478.5M524.5,581.8V514.1M525.5,581.8V527.5M526.5,581.8V460.3M527.5,581.8V509.1M528.5,581.8V521.2M529.5,581.8V552.1M530.5,581.8V514.8M531.5,581.8V510.8M532.5,581.8V544.4M533.5,581.8V532.5M534.5,581.8V514.5M535.5,581.8V541.3M536.5,581.8V497.5M537.5,581.8V529.5M538.5,581.8V471.5M539.5,581.8V530.6M540.5,581.8V529.7M541.5,581.8V518.9M542.5,581.8V497.6M543.5,581.8V496.9M544.5,581.8V519.3M545.5,581.8V463.8M546.5,581.8V529.5M547.5,581.8V491.4M548.5,581.8V529.0M549.5,581.8V538.5M550.5,581.8V533.9M551.5,581.8V479.0M552.5,581.8V549.0M553.5,581.8V538.2M554.5,581.8V552.5M555.5,581.8V524.1M556.5,581.8V529.3M557.5,581.8V511.6M558.5,581.8V529.3M559.5,581.8V543.7M560.5,581.8V532.1M561.5,581.8V529.3M562.5,581.8V549.5M563.5,581.8V541.2M564.5,581.8V555.6M565.5,581.8V518.1M566.5,581.8V523.9M567.5,581.8V525.9M568.5,581.8V535.6M569.5,581.8V550.2M570.5,581.8V507.4M571.5,581.8V543.1M572.5,581.8V532.3M573.5,581.8V535.5M574.5,581.8V506.4M575.5,581.8V543.3M576.5,581.8V559.6M577.5,581.8V526.1M578.5,581.8V512.1M579.5,581.8V496.2M580.5,581.8V542.3M581.5,581.8V544.2M582.5,581.8V549.2M583.5,581.8V503.2M584.5,581.8V514.5M585.5,581.8V518.5M586.5,581.8V526.4M587.5,581.8V500.6M588.5,581.8V528.7M589.5,581.8V533.0M590.5,581.8V543.7M591.5,581.8V525.6M592.5,581.8V505.0M593.5,581.8V549.6M594.5,581.8V533.9M595.5,581.8V427.4M596.5,581.8V524.1M597.5,581.8V552.1M598.5,581.8V545.9M599.5,581.8V514.2M600.5,581.8V510.1M601.5,581.8V533.1M602.5,581.8V499.1M603.5,581.8V541.7M604.5,581.8V530.1M605.5,581.8V477.1M606.5,581.8V543.7M607.5,581.8V533.8M608.5,581.8V513.5M609.5,581.8V531.7M610.5,581.8V484.0M611.5,581.8V513.4M612.5,581.8V510.7M613.5,581.8V527.6M614.5,581.8V498.4M615.5,581.8V468.5M616.5,581.8V528.2M617.5,581.8V545.1M618.5,581.8V501.9M619.5,581.8V534.6M620.5,581.8V492.6M621.5,581.8V547.2M622.5,581.8V502.9M623.5,581.8V516.5M624.5,581.8V502.8M625.5,581.8V537.9M626.5,581.8V551.1M627.5,581.8V525.2M628.5,581.8V518.1M629.5,581.8V459.1M630.5,581.8V525.2M631.5,581.8V471.1M632.5,581.8V456.5M633.5,581.8V521.3M634.5,581.8V532.4M635.5,581.8V531.0M636.5,581.8V533.6M637.5,581.8V555.8M638.5,581.8V539.9M639.5,581.8V509.4M640.5,581.8V516.2M641.5,581.8V538.4M642.5,581.8V563.8M643.5,581.8V520.9M644.5,581.8V553.9M645.5,581.8V541.5M646.5,581.8V495.8M647.5,581.8V536.1M648.5,581.8V543.3M649.5,581.8V547.4M650.5,581.8V508.2M651.5,581.8V547.6M652.5,581.8V519.4M653.5,581.8V542.0M654.5,581.8V553.7M655.5,581.8V539.4M656.5,581.8V517.3M657.5,581.8V524.5M658.5,581.8V453.1M659.5,581.8V561.8M660.5,581.8V527.4M661.5,581.8V538.3M662.5,581.8V537.5M663.5,581.8V539.7M664.5,581.8V526.7M665.5,581.8V514.5M666.5,581.8V525.8M667.5,581.8V522.3M668.5,581.8V529.0M669.5,581.8V537.4M670.5,581.8V552.7M671.5,581.8V510.5M672.5,581.8V539.9M673.5,581.8V528.3M674.5,581.8V548.1M675.5,581.8V538.7M676.5,581.8V495.6M677.5,581.8V541.9M678.5,581.8V445.9M679.5,581.8V541.5M680.5,581.8V543.8M681.5,581.8V503.5M682.5,581.8V523.7M683.5,581.8V546.9M684.5,581.8V544.3M685.5,581.8V522.7M686.5,581.8V549.5M687.5,581.8V534.7M688.5,581.8V550.9M689.5,581.8V543.5M690.5,581.8V513.3M691.5,581.8V529.3M692.5,581.8V517.4M693.5,581.8V504.4M694.5,581.8V556.9M695.5,581.8V554.1M696.5,581.8V527.3M697.5,581.8V506.2M698.5,581.8V530.1M699.5,581.8V553.9M700.5,581.8V548.2M701.5,581.8V499.8M702.5,581.8V527.5M703.5,581.8V429.0M704.5,581.8V519.7M705.5,581.8V550.6M706.5,581.8V545.3M707.5,581.8V537.6M708.5,581.8V526.4M709.5,581.8V527.2M710.5,581.8V531.0M711.5,581.8V550.5M712.5,581.8V504.6M713.5,581.8V527.2M714.5,581.8V438.5M715.5,581.8V483.7M716.5,581.8V494.8M717.5,581.8V543.3M718.5,581.8V548.7M719.5,581.8V513.7M720.5,581.8V527.2M721.5,581.8V531.7M722.5,581.8V505.6M723.5,581.8V549.4M724.5,581.8V546.1M725.5,581.8V519.2M726.5,581.8V548.2M727.5,581.8V554.9M728.5,581.8V516.8M729.5,581.8V535.9M730.5,581.8V500.9M731.5,581.8V545.9M732.5,581.8V514.1M733.5,581.8V546.6M734.5,581.8V532.8M735.5,581.8V443.8M736.5,581.8V534.4M737.5,581.8V496.1M738.5,581.8V515.5M739.5,581.8V521.2M740.5,581.8V532.9M741.5,581.8V503.7M742.5,581.8V524.3M743.5,581.8V552.6M744.5,581.8V526.5M745.5,581.8V541.8M746.5,581.8V484.9M747.5,581.8V518.0M748.5,581.8V506.7M749.5,581.8V553.8M750.5,581.8V457.0M751.5,581.8V557.8M752.5,581.8V543.0M753.5,581.8V532.8M754.5,581.8V543.6M755.5,581.8V549.5M756.5,581.8V534.4M757.5,581.8V527.6M758.5,581.8V541.9M759.5,581.8V529.3M760.5,581.8V518.5M761.5,581.8V529.3M762.5,581.8V534.2M763.5,581.8V465.2M764.5,581.8V502.8M765.5,581.8V522.0M766.5,581.8V482.4M767.5,581.8V459.7M768.5,581.8V542.8M769.5,581.8V532.4M770.5,581.8V502.7M771.5,581.8V549.3M772.5,581.8V494.0M773.5,581.8V533.0M774.5,581.8V526.4M775.5,581.8V508.4M776.5,581.8V534.0M777.5,581.8V528.2M778.5,581.8V477.1M779.5,581.8V552.6M780.5,581.8V523.2M781.5,581.8V551.0M782.5,581.8V537.6M783.5,581.8V512.8M784.5,581.8V524.4M785.5,581.8V525.9M786.5,581.8V544.2M787.5,581.8V527.2M788.5,581.8V517.9M789.5,581.8V540.8M790.5,581.8V471.6M791.5,581.8V500.2M792.5,581.8V562.8M793.5,581.8V542.4" stroke="rgb(128,128,128)" stroke-opacity="0.172" stroke-width="1" fill="none"/>
<path d="M182.5,581.8V516.6M209.5,581.8V527.4M237.5,581.8V501.4M264.5,581.8V531.8M291.5,581.8V469.9M318.5,581.8V508.3M346.5,581.8V512.4M373.5,581.8V409.2M400.5,581.8V497.7M427.5,581.8V493.4M455.5,581.8V455.8M482.5,581.8V515.9M509.5,581.8V531.0M536.5,581.8V500.9M564.5,581.8V504.2M591.5,581.8V463.8M618.5,581.8V537.1M645.5,581.8V494.6M673.5,581.8V494.7M700.5,581.8V524.5M727.5,581.8V518.6M754.5,581.8V514.1M782.5,581.8V535.6" stroke="rgb(128,128,128)" stroke-opacity="0.172" stroke-width="1" fill="none"/>
</g>
<path d="M115.5,581.8H794.3 M115.5,35.6H794.3 M115.5,35.6V581.8 M794.3,35.6V581.8 M895.8,35.6V581.8" stroke="#000" stroke-width="2.1" fill="none" stroke-linecap="square"/>
<path d="M115.50,582.8v10.4M149.44,582.8v5.0M183.38,582.8v5.0M217.32,582.8v5.0M251.26,582.8v5.0M285.20,582.8v10.4M319.14,582.8v5.0M353.08,582.8v5.0M387.02,582.8v5.0M420.96,582.8v5.0M454.90,582.8v10.4M488.84,582.8v5.0M522.78,582.8v5.0M556.72,582.8v5.0M590.66,582.8v5.0M624.60,582.8v10.4M658.54,582.8v5.0M692.48,582.8v5.0M726.42,582.8v5.0M760.36,582.8v5.0M794.30,582.8v10.4M115.50,34.6v-10.2M183.38,34.6v-4.9M251.26,34.6v-4.9M319.14,34.6v-4.9M387.02,34.6v-4.9M454.90,34.6v-10.2M522.78,34.6v-4.9M590.66,34.6v-4.9M658.54,34.6v-4.9M726.42,34.6v-4.9M794.30,34.6v-10.2M114.5,581.80h-10.3M114.5,549.67h-5.2M114.5,517.54h-10.3M114.5,485.41h-5.2M114.5,453.28h-10.3M114.5,421.15h-5.2M114.5,389.02h-10.3M114.5,356.89h-5.2M114.5,324.76h-10.3M114.5,292.64h-5.2M114.5,260.51h-10.3M114.5,228.38h-5.2M114.5,196.25h-10.3M114.5,164.12h-5.2M114.5,131.99h-10.3M114.5,99.86h-5.2M114.5,67.73h-10.3M114.5,35.60h-5.2M793.3,581.80h-10.3M793.3,490.77h-5.2M793.3,399.73h-10.3M793.3,308.70h-5.2M793.3,217.67h-10.3M793.3,126.63h-5.2M793.3,35.60h-10.3M894.8,581.80h-10.3M894.8,563.59h-5.2M894.8,545.39h-5.2M894.8,527.18h-5.2M894.8,508.97h-5.2M894.8,490.77h-5.2M894.8,472.56h-5.2M894.8,454.35h-5.2M894.8,436.15h-5.2M894.8,417.94h-5.2M894.8,399.73h-10.3M894.8,381.53h-5.2M894.8,363.32h-5.2M894.8,345.11h-5.2M894.8,326.91h-5.2M894.8,308.70h-5.2M894.8,290.49h-5.2M894.8,272.29h-5.2M894.8,254.08h-5.2M894.8,235.87h-5.2M894.8,217.67h-10.3M894.8,199.46h-5.2M894.8,181.25h-5.2M894.8,163.05h-5.2M894.8,144.84h-5.2M894.8,126.63h-5.2M894.8,108.43h-5.2M894.8,90.22h-5.2M894.8,72.01h-5.2M894.8,53.81h-5.2M894.8,35.60h-10.3" stroke="#000" stroke-width="2" fill="none"/>
<text x="97.5" y="589.2" font-family='"Liberation Sans", sans-serif' font-size="25.5" text-anchor="end">0</text>
<text x="97.5" y="525.0" font-family='"Liberation Sans", sans-serif' font-size="25.5" text-anchor="end">100</text>
<text x="97.5" y="460.7" font-family='"Liberation Sans", sans-serif' font-size="25.5" text-anchor="end">200</text>
<text x="97.5" y="396.4" font-family='"Liberation Sans", sans-serif' font-size="25.5" text-anchor="end">300</text>
<text x="97.5" y="332.2" font-family='"Liberation Sans", sans-serif' font-size="25.5" text-anchor="end">400</text>
<text x="97.5" y="267.9" font-family='"Liberation Sans", sans-serif' font-size="25.5" text-anchor="end">500</text>
<text x="97.5" y="203.7" font-family='"Liberation Sans", sans-serif' font-size="25.5" text-anchor="end">600</text>
<text x="97.5" y="139.4" font-family='"Liberation Sans", sans-serif' font-size="25.5" text-anchor="end">700</text>
<text x="97.5" y="75.2" font-family='"Liberation Sans", sans-serif' font-size="25.5" text-anchor="end">800</text>
<text x="115.50" y="618.3" font-family='"Liberation Sans", sans-serif' font-size="24.0" text-anchor="middle">0</text>
<text x="285.20" y="618.3" font-family='"Liberation Sans", sans-serif' font-size="24.0" text-anchor="middle">5</text>
<text x="454.90" y="618.3" font-family='"Liberation Sans", sans-serif' font-size="24.0" text-anchor="middle">10</text>
<text x="624.60" y="618.3" font-family='"Liberation Sans", sans-serif' font-size="24.0" text-anchor="middle">15</text>
<text x="794.30" y="618.3" font-family='"Liberation Sans", sans-serif' font-size="24.0" text-anchor="middle">20</text>
<text x="805.5" y="589.2" font-family='"Liberation Sans", sans-serif' font-size="25.5">0</text>
<text x="805.5" y="407.2" font-family='"Liberation Sans", sans-serif' font-size="25.5">2</text>
<text x="805.5" y="225.1" font-family='"Liberation Sans", sans-serif' font-size="25.5">4</text>
<text x="805.5" y="43.0" font-family='"Liberation Sans", sans-serif' font-size="25.5">6</text>
<text x="907.5" y="589.2" font-family='"Liberation Sans", sans-serif' font-size="25.5">0</text>
<text x="907.5" y="407.2" font-family='"Liberation Sans", sans-serif' font-size="25.5">100</text>
<text x="907.5" y="225.1" font-family='"Liberation Sans", sans-serif' font-size="25.5">200</text>
<text x="907.5" y="43.0" font-family='"Liberation Sans", sans-serif' font-size="25.5">300</text>
<text x="371.5" y="660.5" font-family='"Liberation Sans", sans-serif' font-size="31.3">Time, t (s)</text>
<g transform="translate(30.4,429.1) rotate(-90)" font-family='"Liberation Sans", sans-serif'>
<text x="0" y="0" font-size="31">AE activity,</text>
<g transform="translate(162.6,0.1) scale(0.785,0.778)"><path d="M1.34,-21.42 C2.2,-25.5 3.6,-27.3 5.1,-27.3 C6.6,-27.3 7.6,-26.2 8.1,-24.3 C8.8,-21.5 9.6,-16.5 10.3,-12 C11.1,-7 12.6,-1.6 15.2,-1.6 C17.2,-1.6 18.9,-3.4 19.7,-5.4" fill="none" stroke="#000" stroke-width="2.0" stroke-linecap="round"/><path d="M0.0,-0.5 L3.5,-0.5 L10.4,-15.2 L8.6,-20.3 Z" fill="#000"/></g>
<text x="187.7" y="0" font-size="31">(s</text>
<text x="213.3" y="-16" font-size="18.6">-1</text>
<text x="232" y="0" font-size="31">)</text>
</g>
<text transform="translate(861,616.3) rotate(-90) scale(0.94,1)" font-family='"Liberation Sans", sans-serif' font-size="30.3">Cumulative Energy of AE Cluster Members (a.u.)</text>
<g transform="translate(988,414.5) rotate(-90)" font-family='"Liberation Sans", sans-serif'>
<text x="0" y="0" font-size="30.7">Stress,</text>
<g transform="translate(105.6,0.9) scale(0.774,0.827)"><path fill-rule="evenodd" fill="#000" d="M0,-8.98 A9.48,8.98 0 1 0 18.96,-8.98 A9.48,8.98 0 1 0 0,-8.98 Z M3.72,-8.05 A5.67,6.5 0 1 0 15.06,-8.05 A5.67,6.5 0 1 0 3.72,-8.05 Z"/><path d="M8.5,-17.85 H21.3 Q21.65,-17.85 21.65,-17.4 V-15.0 Q21.65,-14.6 21.3,-14.6 H8.5 Z" fill="#000"/></g>
<text x="131.8" y="0" font-size="30.4">/ MPa</text>
</g>
<rect x="579.7" y="51.4" width="12" height="12" fill="#006400"/>
<rect x="579.7" y="83.2" width="12" height="12" fill="#ff0000"/>
<text x="621" y="65.8" font-family='"Liberation Sans", sans-serif' font-size="25.8">Poisson</text>
<text x="621" y="97.5" font-family='"Liberation Sans", sans-serif' font-size="25.8">non-Poisson</text>
<text x="171" y="66.5" font-family='"Liberation Sans", sans-serif' font-size="28.6">start</text>
<text x="645.7" y="287.7" font-family='"Liberation Sans", sans-serif' font-size="22.2" fill="#ff0000">AE Cluster 2 -</text>
<text x="645.9" y="325.8" font-family='"Liberation Sans", sans-serif' font-size="22.2" fill="#ff0000">twinning</text>
<text x="506.1" y="471.6" font-family='"Liberation Sans", sans-serif' font-size="22.2" fill="#008000">AE Cluster 1 -</text>
<text x="505.7" y="509.2" font-family='"Liberation Sans", sans-serif' font-size="22.2" fill="#008000">dislocation slip</text>
<g transform="translate(714.05,159.65)"><path fill-rule="evenodd" fill="#000" d="M0,-8.98 A9.48,8.98 0 1 0 18.96,-8.98 A9.48,8.98 0 1 0 0,-8.98 Z M3.72,-8.05 A5.67,6.5 0 1 0 15.06,-8.05 A5.67,6.5 0 1 0 3.72,-8.05 Z"/><path d="M8.5,-17.85 H21.3 Q21.65,-17.85 21.65,-17.4 V-15.0 Q21.65,-14.6 21.3,-14.6 H8.5 Z" fill="#000"/></g>
<g transform="translate(345.9,110.9)"><path d="M1.34,-21.42 C2.2,-25.5 3.6,-27.3 5.1,-27.3 C6.6,-27.3 7.6,-26.2 8.1,-24.3 C8.8,-21.5 9.6,-16.5 10.3,-12 C11.1,-7 12.6,-1.6 15.2,-1.6 C17.2,-1.6 18.9,-3.4 19.7,-5.4" fill="none" stroke="#000" stroke-width="2.0" stroke-linecap="round"/><path d="M0.0,-0.5 L3.5,-0.5 L10.4,-15.2 L8.6,-20.3 Z" fill="#000"/></g>
<rect x="30" y="677" width="2.5" height="2" fill="#222"/>
</svg></body></html>
